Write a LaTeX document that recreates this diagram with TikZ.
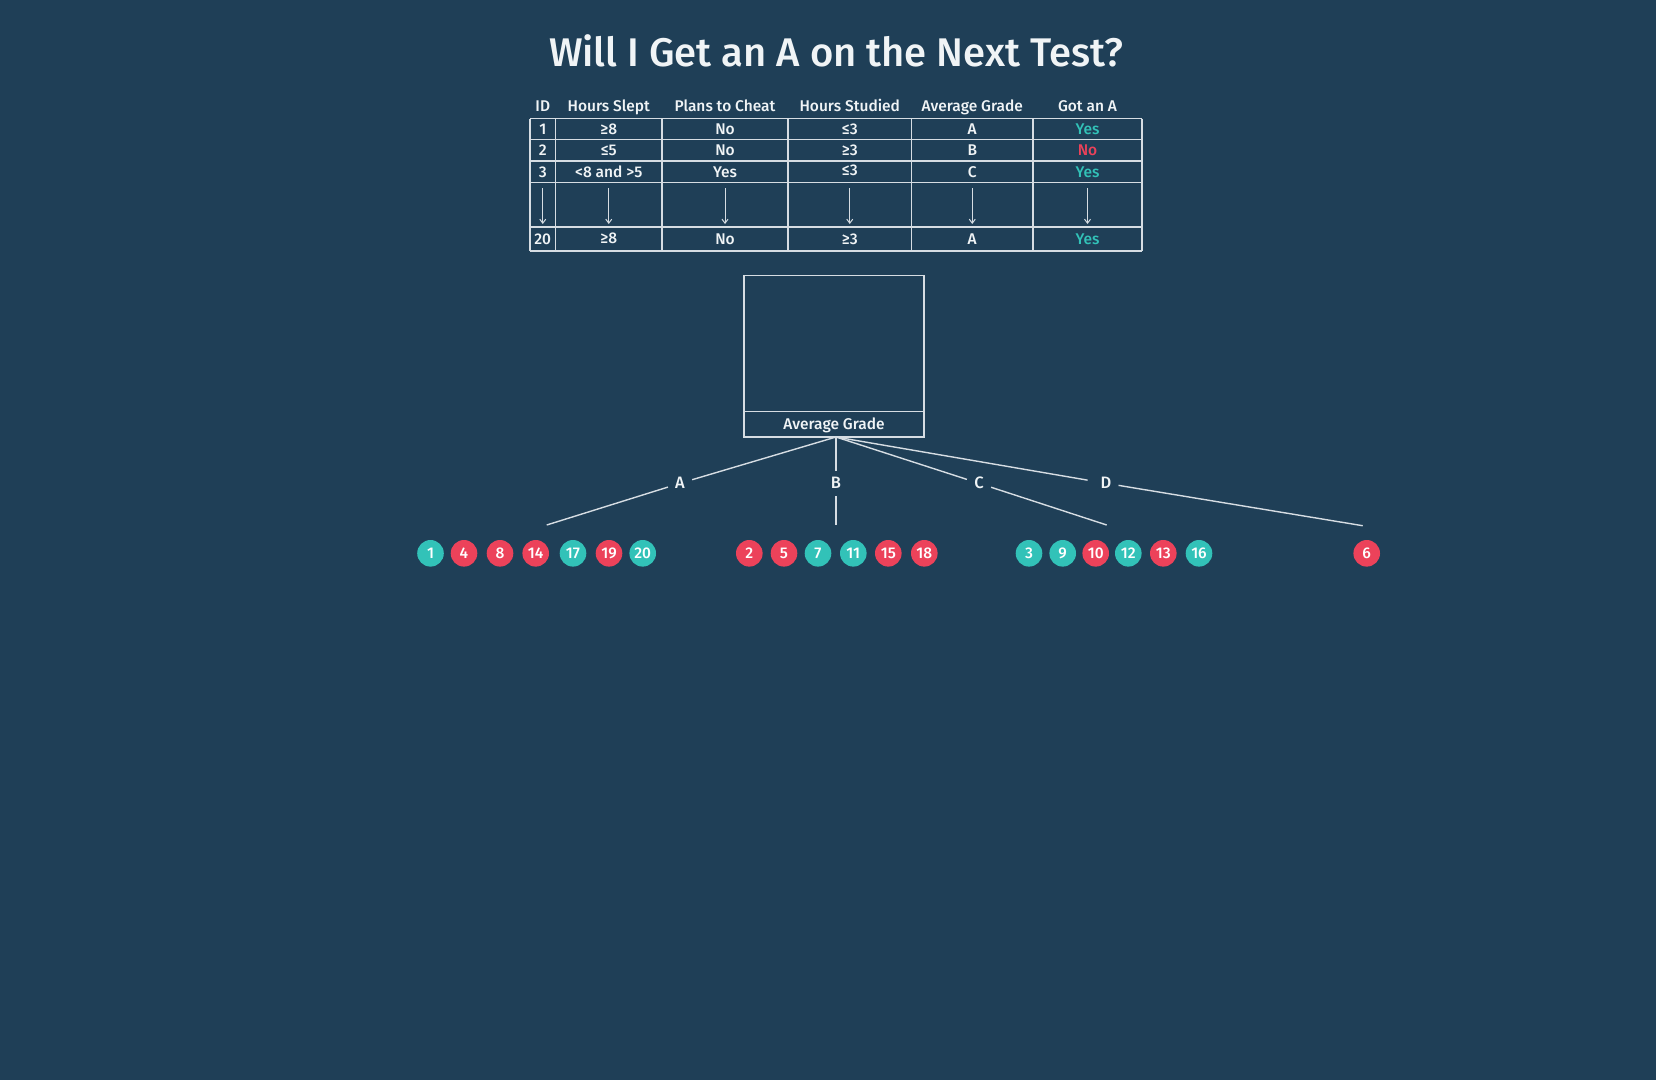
\documentclass[tikz,border=0pt]{standalone}
\usepackage{fontspec}
\setmainfont{Fira Sans Medium}
\usetikzlibrary{arrows.meta}
\definecolor{bgc}{RGB}{31,63,87}
\definecolor{teal}{RGB}{50,194,184}
\definecolor{redc}{RGB}{236,66,90}
\definecolor{txt}{RGB}{240,244,246}
\definecolor{ln}{RGB}{214,221,227}
\begin{document}
\begin{tikzpicture}[x=1pt,y=-1pt,
  cell/.style={inner sep=0pt,text height=10.8pt,text depth=0pt,text=txt,font=\fontsize{15.5}{18}\selectfont},
  grid/.style={draw=ln,line width=1.2pt},
  tarr/.style={draw=ln,line width=1pt,-{Straight Barb[length=4pt,width=6pt]}},
  branch/.style={draw=ln,line width=1.4pt},
  blabel/.style={circle,minimum size=25pt,inner sep=0pt,text height=11.2pt,text depth=0pt,text=txt,font=\fontsize{16.5}{19}\selectfont},
  ball/.style={circle,minimum size=26.6pt,inner sep=0pt,text=white,text height=10.5pt,text depth=0pt,font=\fontsize{15.5}{18}\selectfont},
  tb/.style={ball,fill=teal},
  rb/.style={ball,fill=redc},
  box/.style={draw=ln,line width=1.3pt,inner sep=0pt}
]
\useasboundingbox (0,0) rectangle (1656,1080);
\fill[bgc] (0,0) rectangle (1656,1080);

% title
\node[text=txt,inner sep=0pt,font=\fontsize{40}{48}\selectfont] (title) at (836,51) {Will I Get an A on the Next Test?};

% table grid
\foreach \yy in {118.5,139.5,161,182.5,227,251}
  \draw[grid] (530,\yy) -- (1142,\yy);
\foreach \xx in {530,555.5,662,788,911.5,1033,1142}
  \draw[grid] (\xx,118.5) -- (\xx,251);

% header
\node[cell] (h1) at (542.75,106.5) {ID};
\node[cell] (h2) at (608.75,106.5) {Hours Slept};
\node[cell] (h3) at (725,106.5) {Plans to Cheat};
\node[cell] (h4) at (849.75,106.5) {Hours Studied};
\node[cell] (h5) at (972.25,106.5) {Average Grade};
\node[cell] (h6) at (1087.5,106.5) {Got an A};

% row 1
\node[cell] (r1c1) at (542.75,129.5) {1};
\node[cell] (r1c2) at (608.75,129.5) {≥8};
\node[cell] (r1c3) at (725,129.5) {No};
\node[cell] (r1c4) at (849.75,129.5) {≤3};
\node[cell] (r1c5) at (972.25,129.5) {A};
\node[cell,text=teal] (r1c6) at (1087.5,129.5) {Yes};
% row 2
\node[cell] (r2c1) at (542.75,150.5) {2};
\node[cell] (r2c2) at (608.75,150.5) {≤5};
\node[cell] (r2c3) at (725,150.5) {No};
\node[cell] (r2c4) at (849.75,150.5) {≥3};
\node[cell] (r2c5) at (972.25,150.5) {B};
\node[cell,text=redc] (r2c6) at (1087.5,150.5) {No};
% row 3
\node[cell] (r3c1) at (542.75,172) {3};
\node[cell] (r3c2) at (608.75,172) {<8 and >5};
\node[cell] (r3c3) at (725,172) {Yes};
\node[cell] (r3c4) at (849.75,170.5) {≤3};
\node[cell] (r3c5) at (972.25,172) {C};
\node[cell,text=teal] (r3c6) at (1087.5,172) {Yes};
% row 20
\node[cell] (r4c1) at (542.75,239.5) {20};
\node[cell] (r4c2) at (608.75,238) {≥8};
\node[cell] (r4c3) at (725,239.5) {No};
\node[cell] (r4c4) at (849.75,239.5) {≥3};
\node[cell] (r4c5) at (972.25,239.5) {A};
\node[cell,text=teal] (r4c6) at (1087.5,239.5) {Yes};

% arrows in table
\foreach \i/\xx in {1/542.75,2/608.75,3/725,4/849.75,5/972.25,6/1087.5}{
  \coordinate (ut\i) at (\xx,188);
  \coordinate (ub\i) at (\xx,224);
  \draw[tarr] (ut\i) -- (ub\i);
}

% decision box
\node[box,minimum width=180pt,minimum height=136.2pt] (pic) at (834,343.6) {};
\node[box,minimum width=180pt,minimum height=25.3pt,text=txt,text height=10.8pt,text depth=0pt,font=\fontsize{15.5}{18}\selectfont] (attr) at (834,424.35) {Average Grade};
\coordinate (root) at (836,437);

% branches
\node[blabel] (A) at (680,483.3) {A};
\node[blabel] (B) at (836,483.3) {B};
\node[blabel] (C) at (979,483.3) {C};
\node[blabel] (D) at (1106,483.3) {D};
\coordinate (Aend) at (546.7,525);
\coordinate (Bend) at (836,525);
\coordinate (Cend) at (1106.7,525);
\coordinate (Dend) at (1362.7,525.7);
\draw[branch] (root) -- (A);
\draw[branch] (A) -- (Aend);
\draw[branch] (root) -- (B);
\draw[branch] (B) -- (Bend);
\draw[branch] (root) -- (C);
\draw[branch] (C) -- (Cend);
\draw[branch,shorten >=6pt] (root) -- (D);
\draw[branch] (D) -- (Dend);

% leaves
\foreach \n/\s/\xx in {1/tb/430.5,4/rb/464,8/rb/500,14/rb/535.7,17/tb/573,19/rb/609,20/tb/642.7,
  2/rb/749.3,5/rb/784,7/tb/818,11/tb/853.3,15/rb/888.3,18/rb/924.3,
  3/tb/1029,9/tb/1062.7,10/rb/1095.7,12/tb/1128.3,13/rb/1163.3,16/tb/1199,
  6/rb/1366.7}
  \node[\s] (n\n) at (\xx,553.3) {\n};
\end{tikzpicture}
\end{document}
